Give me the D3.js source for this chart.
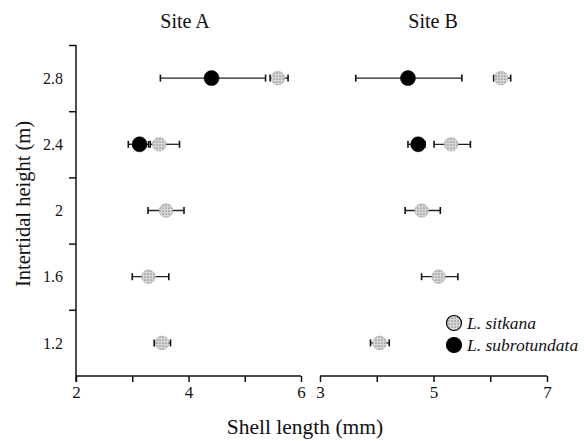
<!DOCTYPE html>
<html>
<head>
<meta charset="utf-8">
<script src="https://cdn.jsdelivr.net/npm/d3@7"></script>
<style>
  body { margin: 0; background: #fff; }
  text { font-family: "Liberation Serif", "DejaVu Serif", serif; fill: #111; }
</style>
</head>
<body>
<script>
// heights (m) and shell lengths (mm): mean, low, high
const heights = [1.2, 1.6, 2.0, 2.4, 2.8];

const siteA_sitkana = [
  { h: 1.2, m: 3.53, lo: 3.39, hi: 3.68 },
  { h: 1.6, m: 3.29, lo: 3.0, hi: 3.65 },
  { h: 2.0, m: 3.6, lo: 3.28, hi: 3.92 },
  { h: 2.4, m: 3.48, lo: 3.32, hi: 3.84 },
  { h: 2.8, m: 5.59, lo: 5.45, hi: 5.77 }
];
const siteA_subrot = [
  { h: 2.4, m: 3.13, lo: 2.93, hi: 3.29 },
  { h: 2.8, m: 4.41, lo: 3.5, hi: 5.37 }
];
const siteB_sitkana = [
  { h: 1.2, m: 4.05, lo: 3.89, hi: 4.22 },
  { h: 1.6, m: 5.09, lo: 4.79, hi: 5.43 },
  { h: 2.0, m: 4.79, lo: 4.5, hi: 5.12 },
  { h: 2.4, m: 5.31, lo: 5.01, hi: 5.65 },
  { h: 2.8, m: 6.19, lo: 6.06, hi: 6.36 }
];
const siteB_subrot = [
  { h: 2.4, m: 4.73, lo: 4.55, hi: 4.85 },
  { h: 2.8, m: 4.55, lo: 3.63, hi: 5.5 }
];

const yTicks = [1.4, 1.8, 2.2, 2.6, 3.0];
const xTicksA = [2, 3, 4, 5, 6];
const xLabelsA = [2, 4, 6];
const xTicksB = [3, 4, 5, 6, 7];
const xLabelsB = [3, 5, 7];

const width = 584, height = 441;
const svg = d3.select("body").append("svg").attr("width", width).attr("height", height);

// stippled grey fill
const pat = svg.append("defs").append("pattern")
  .attr("id", "stip").attr("width", 3).attr("height", 3)
  .attr("patternUnits", "userSpaceOnUse");
pat.append("rect").attr("width", 3).attr("height", 3).attr("fill", "#d8d8d8");
pat.append("circle").attr("cx", 1).attr("cy", 1).attr("r", 0.85).attr("fill", "#8e8e8e");

const y = d3.scaleLinear().domain([1.0, 3.0]).range([376, 45]);
const xA = d3.scaleLinear().domain([2, 6]).range([76, 301]);
const xB = d3.scaleLinear().domain([3, 7]).range([320, 547]);

// y axis
const yAx = svg.append("g").attr("transform", "translate(76,0)");
yAx.append("line").attr("y1", y(3.0)).attr("y2", y(1.0) + 6).attr("stroke", "#111").attr("stroke-width", 1.5);
yAx.call(g => g.append("g")
  .call(d3.axisLeft(y).tickValues(yTicks).tickSize(7).tickFormat(""))
  .call(s => s.select(".domain").remove())
  .selectAll("line").attr("stroke", "#111").attr("stroke-width", 1.5));
yAx.append("g")
  .call(d3.axisLeft(y).tickValues(heights).tickSize(0).tickPadding(13).tickFormat(d => d3.format("~g")(d)))
  .call(s => s.select(".domain").remove())
  .selectAll("text").style("font-size", "16px").attr("fill", "#111").attr("font-family", "Liberation Serif");

function xAxis(x, ticks, labels) {
  const g = svg.append("g").attr("transform", "translate(0,376)");
  const [a, b] = x.range();
  g.append("line").attr("x1", a).attr("x2", b).attr("stroke", "#111").attr("stroke-width", 1.5);
  g.append("g").call(d3.axisBottom(x).tickValues(ticks).tickSize(6).tickFormat(""))
    .call(s => s.select(".domain").remove())
    .selectAll("line").attr("stroke", "#111").attr("stroke-width", 1.5);
  g.append("g").call(d3.axisBottom(x).tickValues(labels).tickSize(0).tickPadding(10).tickFormat(d3.format("d")))
    .call(s => s.select(".domain").remove())
    .selectAll("text").style("font-size", "17px").attr("fill", "#111").attr("font-family", "Liberation Serif");
}
xAxis(xA, xTicksA, xLabelsA);
xAxis(xB, xTicksB, xLabelsB);

function points(x, data, fill) {
  const g = svg.append("g");
  const cap = 3.5;
  data.forEach(d => {
    const yy = y(d.h);
    g.append("line").attr("x1", x(d.lo)).attr("x2", x(d.hi)).attr("y1", yy).attr("y2", yy)
      .attr("stroke", "#222").attr("stroke-width", 1.3);
    [d.lo, d.hi].forEach(v => {
      g.append("line").attr("x1", x(v)).attr("x2", x(v)).attr("y1", yy - cap).attr("y2", yy + cap)
        .attr("stroke", "#111").attr("stroke-width", 1.6);
    });
  });
  g.selectAll("circle").data(data).join("circle")
    .attr("cx", d => x(d.m)).attr("cy", d => y(d.h)).attr("r", fill === "black" ? 7.5 : 6.8)
    .attr("fill", fill === "black" ? "#000" : "url(#stip)")
    .attr("stroke", fill === "black" ? "#000" : "#aaa").attr("stroke-width", 0.6);
}
points(xA, siteA_sitkana, "grey");
points(xA, siteA_subrot, "black");
points(xB, siteB_sitkana, "grey");
points(xB, siteB_subrot, "black");

// titles
svg.append("text").attr("x", 185).attr("y", 28).attr("text-anchor", "middle").style("font-size", "20px").text("Site A");
svg.append("text").attr("x", 433).attr("y", 28).attr("text-anchor", "middle").style("font-size", "20px").text("Site B");

// axis labels
svg.append("text").attr("x", 305).attr("y", 434).attr("text-anchor", "middle").style("font-size", "21.5px").text("Shell length (mm)");
svg.append("text").attr("transform", "translate(30,204) rotate(-90)").attr("text-anchor", "middle")
  .style("font-size", "20.5px").text("Intertidal height (m)");

// legend
const legend = [
  { name: "L. sitkana", fill: "url(#stip)" },
  { name: "L. subrotundata", fill: "#000" }
];
const lg = svg.append("g").attr("transform", "translate(454,323)");
legend.forEach((d, i) => {
  lg.append("circle").attr("cx", 0).attr("cy", i * 22).attr("r", 7.5)
    .attr("fill", d.fill).attr("stroke", "#000").attr("stroke-width", 1.2);
  lg.append("text").attr("x", 13).attr("y", i * 22 + 5.5).style("font-size", "17.5px").style("font-style", "italic").text(d.name);
});
</script>
</body>
</html>
